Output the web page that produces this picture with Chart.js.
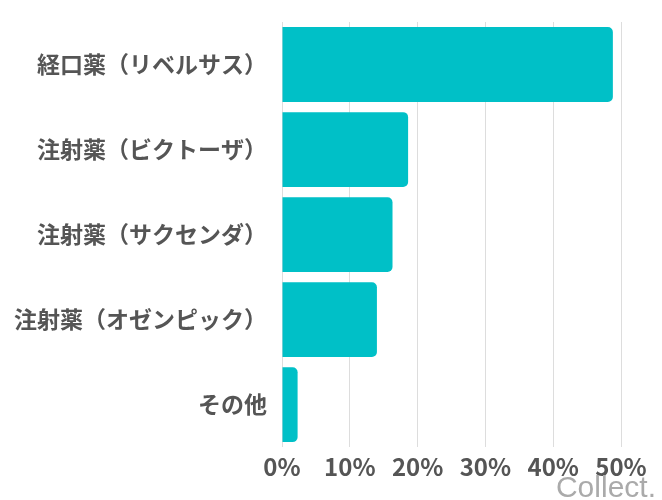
<!DOCTYPE html>
<html>
<head>
<meta charset="utf-8">
<script src="https://cdn.jsdelivr.net/npm/chart.js@4"></script>
<style>
  html, body { margin: 0; padding: 0; background: #fff; }
  #wrap { position: relative; width: 662px; height: 500px; }
  #mark { position: absolute; right: 6px; bottom: -4px; font-family: "Liberation Sans", sans-serif; font-size: 30px; color: #aaa; }
</style>
</head>
<body>
<div id="wrap">
  <canvas id="chart" width="662" height="500"></canvas>
  <div id="mark">Collect.</div>
</div>
<script>
var categories = ['経口薬（リベルサス）', '注射薬（ビクトーザ）', '注射薬（サクセンダ）', '注射薬（オゼンピック）', 'その他'];
var shares = [48.8, 18.6, 16.3, 14.0, 2.3];
var xTicks = [0, 10, 20, 30, 40, 50];

var ctx = document.getElementById('chart').getContext('2d');
var myChart = new Chart(ctx, {
    type: 'bar',
    data: {
        labels: categories,
        datasets: [{
            data: shares,
            backgroundColor: '#00C0C7',
            borderRadius: 5,
            borderSkipped: 'start',
            barPercentage: 0.88,
            categoryPercentage: 1
        }]
    },
    options: {
        indexAxis: 'y',
        responsive: false,
        animation: false,
        layout: { padding: { top: 22, right: 41, bottom: 14, left: 10 } },
        plugins: { legend: { display: false }, tooltip: { enabled: false } },
        scales: {
            x: {
                min: 0,
                max: 50,
                afterBuildTicks: function (axis) {
                    axis.ticks = xTicks.map(function (v) { return { value: v }; });
                },
                grid: { color: '#dddddd', drawTicks: false },
                border: { display: false },
                ticks: {
                    padding: 5,
                    color: '#555',
                    font: { family: '"Noto Sans CJK JP", sans-serif', size: 24, weight: 'bold' },
                    callback: function (v) { return v + '%'; }
                }
            },
            y: {
                grid: { color: 'transparent', drawTicks: true, tickLength: 11 },
                border: { display: false },
                ticks: {
                    padding: 4,
                    color: '#555',
                    font: { family: '"Noto Sans CJK JP", sans-serif', size: 23, weight: 'bold' }
                }
            }
        }
    }
});
</script>
</body>
</html>
